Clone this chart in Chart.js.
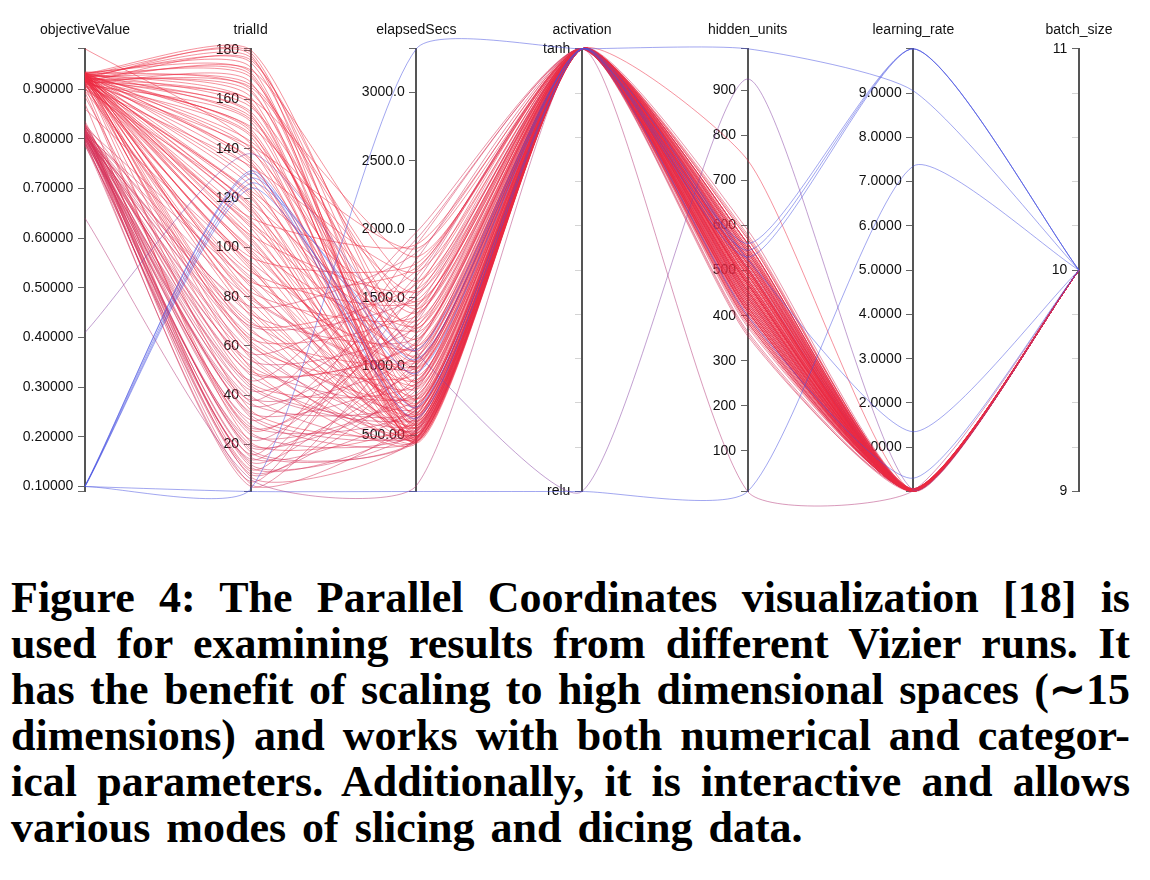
<!DOCTYPE html>
<html>
<head>
<meta charset="utf-8">
<script src="https://cdn.jsdelivr.net/npm/chart.js@4.4.1/dist/chart.umd.min.js"></script>
<style>
  html, body { margin: 0; padding: 0; background: #fff; }
  #wrap { position: absolute; left: 0; top: 0; width: 1150px; height: 540px; }
  #caption {
    position: absolute; left: 11px; top: 575px; width: 1119px;
    font-family: "Liberation Serif", serif; font-weight: bold;
    font-size: 44px; line-height: 45.9px; color: #000;
  }
  #caption div { text-align: justify; text-align-last: justify; }
  #caption div.last { text-align-last: left; word-spacing: 5px; }
</style>
</head>
<body>
<div id="wrap"><canvas id="pc" width="1150" height="540"></canvas></div>
<div id="caption">
  <div>Figure 4: The Parallel Coordinates visualization [18] is</div>
  <div>used for examining results from different Vizier runs. It</div>
  <div>has the benefit of scaling to high dimensional spaces (∼15</div>
  <div>dimensions) and works with both numerical and categor-</div>
  <div>ical parameters. Additionally, it is interactive and allows</div>
  <div class="last">various modes of slicing and dicing data.</div>
</div>
<script>
// axes of the parallel coordinates plot
const dims = ['objectiveValue', 'trialId', 'elapsedSecs', 'activation', 'hidden_units', 'learning_rate', 'batch_size'];
const activationCats = ['relu', 'tanh'];

// axis extents
const domainMin = [0.09, 1, 88, 0, 10, 0, 9];
const domainMax = [0.981, 180.5, 3318, 1, 992, 10, 11];

// labelled ticks
const objectiveTicks = [0.1, 0.2, 0.3, 0.4, 0.5, 0.6, 0.7, 0.8, 0.9];
const trialTicks = [20, 40, 60, 80, 100, 120, 140, 160, 180];
const elapsedTicks = [500, 1000, 1500, 2000, 2500, 3000];
const activationTicks = [0, 1];
const hiddenTicks = [100, 200, 300, 400, 500, 600, 700, 800, 900];
const lrTicks = [1, 2, 3, 4, 5, 6, 7, 8, 9];
const batchTicks = [9, 10, 11];
// faint unlabelled ticks on the activation and batch_size axes
const activationMinor = [0.1, 0.2, 0.3, 0.4, 0.5, 0.6, 0.7, 0.8, 0.9];
const batchMinor = [9.2, 9.4, 9.6, 9.8, 10.2, 10.4, 10.6, 10.8];

// trials (one line each); the last nine are the low-scoring / odd runs
const trialId = [
  3, 4, 5, 7, 9, 10, 12, 13, 15, 16, 18, 19, 21, 22, 24, 25, 27, 28, 30, 31,
  33, 34, 36, 37, 39, 40, 42, 43, 45, 46, 48, 49, 51, 52, 54, 55, 57, 58, 60, 61,
  63, 64, 66, 67, 69, 70, 72, 73, 75, 76, 78, 79, 81, 82, 84, 85, 87, 88, 90, 91,
  93, 94, 96, 97, 99, 100, 102, 103, 105, 106, 108, 109, 111, 112, 114, 115, 117, 118, 120, 121,
  123, 125, 127, 129, 132, 133, 135, 136, 139, 140, 142, 143, 145, 146, 148, 149, 151, 152, 154, 155,
  157, 158, 160, 161, 163, 164, 166, 167, 169, 170, 172, 173, 175, 176, 178, 179, 180,
  8, 11, 14, 17, 20, 26, 32, 38, 44, 50, 56, 62, 68, 74, 80,
  86, 92, 98, 104, 110, 116, 122, 134, 141, 147, 153, 159, 165, 171, 177,
  6, 138, 2, 1, 126, 128, 130, 131, 124
];
const objectiveValue = [
  0.795, 0.812, 0.788, 0.823, 0.801, 0.870, 0.792, 0.815, 0.806, 0.828,
  0.799, 0.812, 0.905, 0.786, 0.819, 0.803, 0.835, 0.797, 0.810, 0.826,
  0.808, 0.915, 0.794, 0.817, 0.802, 0.830, 0.811, 0.790, 0.884, 0.820,
  0.806, 0.814, 0.925, 0.809, 0.797, 0.918, 0.824, 0.805, 0.928, 0.813,
  0.909, 0.800, 0.921, 0.818, 0.930, 0.807, 0.912, 0.829, 0.926, 0.804,
  0.919, 0.815, 0.931, 0.896, 0.922, 0.810, 0.927, 0.823, 0.916, 0.930,
  0.908, 0.860, 0.924, 0.933, 0.917, 0.929, 0.920, 0.911, 0.932, 0.923,
  0.906, 0.927, 0.918, 0.934, 0.915, 0.925, 0.900, 0.929, 0.921, 0.913,
  0.931, 0.926, 0.919, 0.932, 0.924, 0.907, 0.928, 0.917, 0.933, 0.922,
  0.981, 0.926, 0.914, 0.930, 0.920, 0.927, 0.910, 0.933, 0.925, 0.918,
  0.931, 0.923, 0.916, 0.929, 0.921, 0.934, 0.926, 0.912, 0.930, 0.924,
  0.919, 0.932, 0.927, 0.915, 0.929, 0.922, 0.931,
  0.807, 0.822, 0.791, 0.816, 0.804, 0.893, 0.812, 0.799, 0.827, 0.913,
  0.808, 0.924, 0.816, 0.929, 0.902, 0.931, 0.918, 0.926, 0.932, 0.917,
  0.928, 0.920, 0.933, 0.915, 0.929, 0.922, 0.931, 0.918, 0.934, 0.925,
  0.640, 0.410, 0.100, 0.100, 0.100, 0.101, 0.102, 0.100, 0.100
];
const elapsedSecs = [
  1320, 640, 1780, 480, 930, 1560, 540, 1150, 720, 1890,
  460, 1010, 610, 1430, 830, 520, 1240, 690, 1660, 470,
  980, 560, 1350, 760, 1090, 500, 1520, 650, 880, 1980,
  590, 1180, 440, 800, 1290, 520, 1700, 620, 950, 480,
  1410, 700, 1060, 540, 1600, 850, 450, 1210, 660, 1830,
  580, 990, 470, 1370, 760, 530, 1140, 610, 1480, 720,
  490, 1030, 1750, 560, 870, 1270, 460, 680, 1560, 790,
  510, 1120, 640, 1890, 450, 960, 590, 1330, 720, 490,
  1450, 830, 550, 1040, 620, 1690, 470, 900, 1200, 530,
  760, 1390, 480, 980, 660, 1540, 570, 1110, 440, 850,
  1280, 600, 1800, 510, 930, 700, 1470, 460, 1060, 640,
  1620, 550, 880, 1250, 490, 760, 1150,
  1050, 590, 1620, 470, 860, 1380, 530, 1930, 680, 1170,
  450, 780, 1510, 560, 1010, 1720, 480, 900, 640, 1300,
  510, 1080, 730, 1860, 450, 990, 580, 1420, 690, 1030,
  130, 1100, 3318, 88, 1120, 1050, 620, 700, 950
];
const activation = [
  'tanh', 'tanh', 'tanh', 'tanh', 'tanh', 'tanh', 'tanh', 'tanh', 'tanh', 'tanh',
  'tanh', 'tanh', 'tanh', 'tanh', 'tanh', 'tanh', 'tanh', 'tanh', 'tanh', 'tanh',
  'tanh', 'tanh', 'tanh', 'tanh', 'tanh', 'tanh', 'tanh', 'tanh', 'tanh', 'tanh',
  'tanh', 'tanh', 'tanh', 'tanh', 'tanh', 'tanh', 'tanh', 'tanh', 'tanh', 'tanh',
  'tanh', 'tanh', 'tanh', 'tanh', 'tanh', 'tanh', 'tanh', 'tanh', 'tanh', 'tanh',
  'tanh', 'tanh', 'tanh', 'tanh', 'tanh', 'tanh', 'tanh', 'tanh', 'tanh', 'tanh',
  'tanh', 'tanh', 'tanh', 'tanh', 'tanh', 'tanh', 'tanh', 'tanh', 'tanh', 'tanh',
  'tanh', 'tanh', 'tanh', 'tanh', 'tanh', 'tanh', 'tanh', 'tanh', 'tanh', 'tanh',
  'tanh', 'tanh', 'tanh', 'tanh', 'tanh', 'tanh', 'tanh', 'tanh', 'tanh', 'tanh',
  'tanh', 'tanh', 'tanh', 'tanh', 'tanh', 'tanh', 'tanh', 'tanh', 'tanh', 'tanh',
  'tanh', 'tanh', 'tanh', 'tanh', 'tanh', 'tanh', 'tanh', 'tanh', 'tanh', 'tanh',
  'tanh', 'tanh', 'tanh', 'tanh', 'tanh', 'tanh', 'tanh',
  'tanh', 'tanh', 'tanh', 'tanh', 'tanh', 'tanh', 'tanh', 'tanh', 'tanh', 'tanh',
  'tanh', 'tanh', 'tanh', 'tanh', 'tanh', 'tanh', 'tanh', 'tanh', 'tanh', 'tanh',
  'tanh', 'tanh', 'tanh', 'tanh', 'tanh', 'tanh', 'tanh', 'tanh', 'tanh', 'tanh',
  'tanh', 'relu', 'tanh', 'relu', 'tanh', 'tanh', 'tanh', 'tanh', 'tanh'
];
const hiddenUnits = [
  470, 520, 410, 560, 385, 495, 450, 530, 365, 475,
  590, 420, 505, 455, 540, 395, 480, 430, 515, 360,
  575, 445, 500, 410, 535, 470, 385, 550, 440, 490,
  420, 510, 465, 560, 400, 525, 450, 375, 540, 480,
  430, 505, 580, 415, 470, 355, 520, 445, 495, 410,
  555, 460, 390, 530, 485, 425, 745, 440, 500, 380,
  515, 455, 475, 545, 405, 490, 435, 560, 470, 395,
  525, 450, 505, 420, 570, 480, 440, 515, 465, 390,
  535, 455, 500, 425, 550, 470, 410, 520, 445, 490,
  560, 430, 505, 465, 400, 540, 475, 420, 515, 455,
  500, 385, 530, 460, 570, 440, 490, 410, 525, 470,
  435, 505, 455, 545, 480, 420, 500,
  445, 505, 430, 485, 540, 410, 470, 525, 395, 455,
  510, 435, 560, 480, 415, 500, 450, 530, 470, 405,
  545, 460, 490, 425, 515, 440, 475, 550, 415, 495,
  10, 925, 992, 10, 545, 530, 525, 560, 400
];
const learningRate = [
  0.03, 0.01, 0.05, 0.02, 0.04, 0.01, 0.06, 0.02, 0.03, 0.01,
  0.05, 0.02, 0.04, 0.03, 0.01, 0.02, 0.06, 0.03, 0.02, 0.01,
  0.04, 0.02, 0.03, 0.05, 0.01, 0.02, 0.04, 0.03, 0.01, 0.02,
  0.06, 0.03, 0.02, 0.04, 0.01, 0.03, 0.02, 0.05, 0.01, 0.03,
  0.02, 0.04, 0.01, 0.03, 0.02, 0.05, 0.01, 0.02, 0.04, 0.03,
  0.01, 0.02, 0.06, 0.03, 0.02, 0.04, 0.01, 0.03, 0.02, 0.05,
  0.01, 0.02, 0.04, 0.03, 0.01, 0.02, 0.03, 0.05, 0.01, 0.02,
  0.04, 0.03, 0.01, 0.02, 0.06, 0.03, 0.02, 0.04, 0.01, 0.03,
  0.02, 0.05, 0.01, 0.02, 0.03, 0.04, 0.01, 0.02, 0.03, 0.05,
  0.01, 0.02, 0.04, 0.03, 0.01, 0.02, 0.03, 0.06, 0.02, 0.01,
  0.04, 0.03, 0.02, 0.01, 0.05, 0.02, 0.03, 0.01, 0.02, 0.04,
  0.03, 0.01, 0.02, 0.05, 0.03, 0.02, 0.01,
  0.02, 0.04, 0.01, 0.03, 0.02, 0.05, 0.01, 0.03, 0.02, 0.04,
  0.01, 0.03, 0.02, 0.01, 0.05, 0.02, 0.03, 0.01, 0.04, 0.02,
  0.03, 0.01, 0.02, 0.05, 0.03, 0.01, 0.02, 0.04, 0.03, 0.02,
  0.02, 0.04, 9.05, 7.35, 10, 10, 1.35, 10, 0.3
];
const batchSize = [
  10, 10, 10, 10, 10, 10, 10, 10, 10, 10,
  10, 10, 10, 10, 10, 10, 10, 10, 10, 10,
  10, 10, 10, 10, 10, 10, 10, 10, 10, 10,
  10, 10, 10, 10, 10, 10, 10, 10, 10, 10,
  10, 10, 10, 10, 10, 10, 10, 10, 10, 10,
  10, 10, 10, 10, 10, 10, 10, 10, 10, 10,
  10, 10, 10, 10, 10, 10, 10, 10, 10, 10,
  10, 10, 10, 10, 10, 10, 10, 10, 10, 10,
  10, 10, 10, 10, 10, 10, 10, 10, 10, 10,
  10, 10, 10, 10, 10, 10, 10, 10, 10, 10,
  10, 10, 10, 10, 10, 10, 10, 10, 10, 10,
  10, 10, 10, 10, 10, 10, 10,
  10, 10, 10, 10, 10, 10, 10, 10, 10, 10,
  10, 10, 10, 10, 10, 10, 10, 10, 10, 10,
  10, 10, 10, 10, 10, 10, 10, 10, 10, 10,
  10, 10, 10, 10, 10, 10, 10, 10, 10
];

const majorTicks = [objectiveTicks, trialTicks, elapsedTicks, activationTicks, hiddenTicks, lrTicks, batchTicks];
const minorTicks = [[], [], [], activationMinor, [], [], batchMinor];
const tickFormat = [
  v => v.toFixed(5),
  v => String(v),
  v => v.toPrecision(5),
  v => activationCats[v],
  v => String(v),
  v => v.toFixed(4),
  v => String(v)
];

// low objective -> blue, high objective -> red
function lineColour(v) {
  const t = Math.min(1, Math.max(0, (v - 0.1) / (0.93 - 0.1)));
  const lo = [70, 80, 225], hi = [238, 40, 62];
  const c = lo.map((a, i) => Math.round(a + (hi[i] - a) * t));
  return `rgba(${c[0]},${c[1]},${c[2]},0.5)`;
}

const labelFont = { family: 'Liberation Sans', size: 14 };
// labels of axes placed at a data position sit on the axis line, so pad them with spaces
const gap = '   ';

const scales = {
  x: {
    type: 'linear', position: 'top', min: 0, max: 6,
    afterBuildTicks: s => { s.ticks = dims.map((d, i) => ({ value: i })); },
    ticks: { callback: v => dims[v], font: labelFont, color: '#111', padding: 10, maxRotation: 0, autoSkip: false },
    grid: { display: false, drawTicks: false },
    border: { display: false }
  },
  y: { type: 'linear', min: 0, max: 1, display: false }
};

dims.forEach((name, i) => {
  const major = majorTicks[i];
  const ends = [domainMin[i], domainMax[i]];
  scales['d' + i] = {
    type: 'linear', axis: 'y', position: { x: i },
    min: domainMin[i], max: domainMax[i],
    afterBuildTicks: s => {
      const vals = [...new Set([...ends, ...minorTicks[i], ...major])].sort((a, b) => a - b);
      s.ticks = vals.map(v => ({ value: v }));
    },
    ticks: {
      autoSkip: false, font: labelFont, color: '#111', padding: 4,
      callback: v => major.includes(v) ? tickFormat[i](v) + gap : ''
    },
    grid: {
      drawOnChartArea: false, drawTicks: true, tickLength: 6, lineWidth: 1,
      tickColor: ctx => (major.includes(ctx.tick.value) || ends.includes(ctx.tick.value)) ? '#666' : '#d4d4d4'
    },
    border: { display: true, color: '#555', width: 2 }
  };
});

const n = trialId.length;
const datasets = trialId.map((_, k) => {
  const row = [objectiveValue[k], trialId[k], elapsedSecs[k], activationCats.indexOf(activation[k]),
               hiddenUnits[k], learningRate[k], batchSize[k]];
  return {
    data: row.map((v, i) => ({ x: i, y: (v - domainMin[i]) / (domainMax[i] - domainMin[i]) })),
    borderColor: lineColour(objectiveValue[k]),
    borderWidth: 1,
    pointRadius: 0,
    tension: 0.2,
    clip: false,
    order: n - k
  };
});

new Chart(document.getElementById('pc'), {
  type: 'line',
  data: { datasets },
  options: {
    responsive: false,
    animation: false,
    events: [],
    layout: { padding: { left: 85, right: 71, top: 12, bottom: 48.5 } },
    elements: { line: { capBezierPoints: false } },
    plugins: { legend: { display: false }, tooltip: { enabled: false } },
    scales
  }
});
</script>
</body>
</html>
